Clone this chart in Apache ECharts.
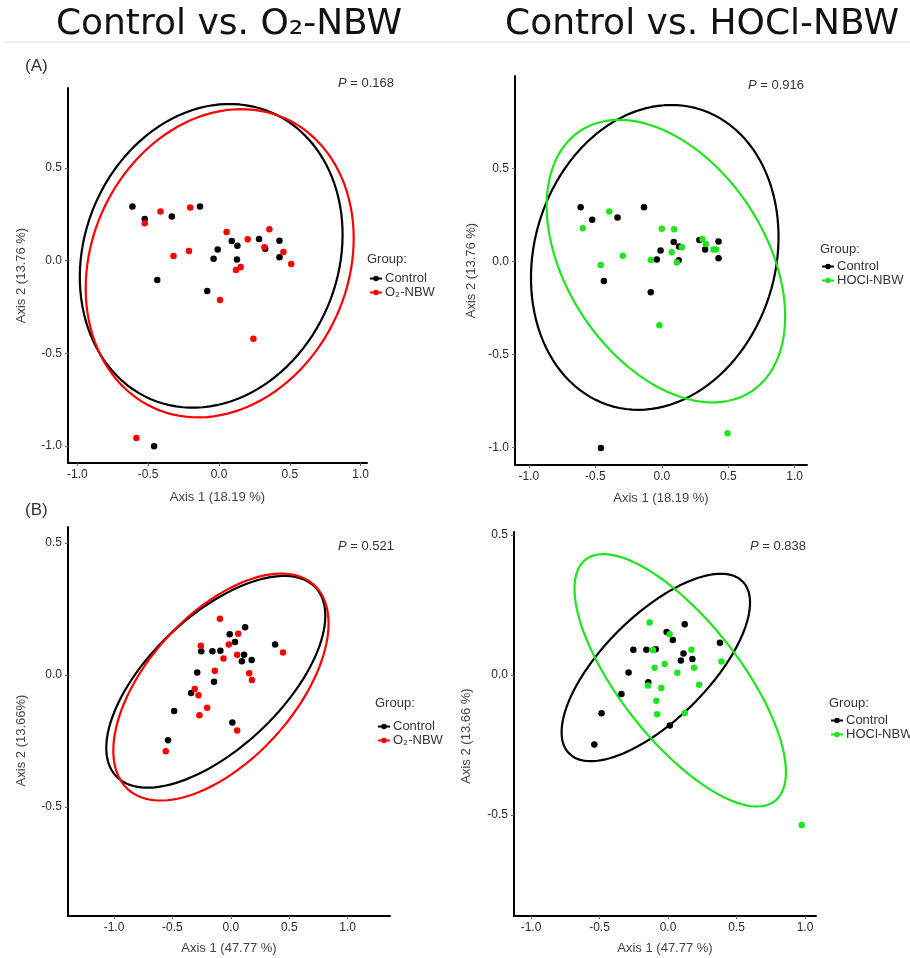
<!DOCTYPE html>
<html>
<head>
<meta charset="utf-8">
<title>PCoA Control vs NBW</title>
<script src="https://cdn.jsdelivr.net/npm/echarts@6.0.0/dist/echarts.min.js"></script>
<style>
  html, body { margin: 0; padding: 0; background: #fff; }
  #main { width: 910px; height: 958px; }
</style>
</head>
<body>
<div id="main"></div>
<script>
// ---- data ----
// (A) Axis 1 18.19 %, Axis 2 13.76 %
var ctrlA = [
  [-0.611, 0.292], [-0.524, 0.225], [-0.333, 0.238], [-0.134, 0.292],
  [0.090, 0.106], [0.130, 0.081], [-0.009, 0.060], [-0.038, 0.011],
  [0.127, 0.007], [0.283, 0.117], [0.427, 0.108], [0.326, 0.065],
  [0.427, 0.018], [-0.436, -0.104], [-0.083, -0.164], [-0.458, -1.002]
];
var o2A = [
  [-0.524, 0.202], [-0.413, 0.265], [-0.203, 0.287], [0.054, 0.155],
  [0.203, 0.116], [0.356, 0.170], [0.321, 0.072], [0.455, 0.047],
  [0.510, -0.018], [-0.321, 0.025], [-0.212, 0.052], [0.120, -0.050],
  [0.153, -0.034], [0.007, -0.212], [0.243, -0.421], [-0.583, -0.957]
];
var hoclA = [
  [-0.395, 0.269], [-0.595, 0.179], [0.000, 0.177], [0.093, 0.174],
  [0.075, 0.050], [0.151, 0.077], [0.113, -0.004], [-0.083, 0.009],
  [-0.294, 0.032], [-0.460, -0.018], [0.306, 0.122], [0.332, 0.095],
  [0.389, 0.066], [0.409, 0.066], [-0.018, -0.342], [0.495, -0.923]
];
// (B) Axis 1 47.77 %, Axis 2 13.66 %
var ctrlB = [
  [0.122, 0.181], [-0.010, 0.154], [0.035, 0.125], [-0.158, 0.090],
  [-0.090, 0.092], [-0.253, 0.090], [0.113, 0.077], [0.094, 0.052],
  [0.178, 0.057], [0.379, 0.115], [-0.288, 0.009], [-0.144, -0.026],
  [-0.340, -0.068], [-0.485, -0.137], [0.013, -0.180], [-0.538, -0.248]
];
var o2B = [
  [-0.094, 0.213], [0.063, 0.156], [-0.017, 0.115], [-0.257, 0.111],
  [-0.063, 0.062], [0.054, 0.077], [-0.137, 0.016], [0.157, 0.006],
  [0.180, -0.019], [0.446, 0.085], [-0.309, -0.053], [-0.277, -0.077],
  [-0.203, -0.124], [-0.269, -0.153], [0.054, -0.211], [-0.557, -0.289]
];
var hoclB = [
  [-0.134, 0.188], [0.012, 0.146], [-0.110, 0.089], [0.171, 0.090],
  [-0.098, 0.026], [-0.024, 0.039], [0.068, 0.008], [0.190, 0.026],
  [0.390, 0.048], [-0.146, -0.037], [-0.049, -0.046], [0.227, -0.035],
  [-0.085, -0.092], [-0.080, -0.140], [0.122, -0.136], [0.976, -0.536]
];

// confidence ellipses: [centerX, centerY, semiMajor, semiMinor, angleDeg]
var ellCtrlA1 = [-0.055, 0.026, 0.953, 0.790, 24.2];
var ellO2A = [0.005, -0.014, 0.978, 0.794, 25.7];
var ellCtrlA2 = [-0.053, 0.023, 0.955, 0.792, 23.1];
var ellHoclA = [0.031, 0.003, 0.991, 0.633, -33.4];
var ellCtrlB1 = [-0.129, -0.026, 0.974, 0.302, 16.6];
var ellO2B = [-0.085, -0.046, 0.957, 0.343, 16.9];
var ellCtrlB2 = [-0.089, 0.027, 0.730, 0.228, 20.7];
var ellHoclB = [0.089, -0.019, 0.848, 0.282, -26.1];

var ticksX = [-1.0, -0.5, 0.0, 0.5, 1.0];
var ticksYA = [-1.0, -0.5, 0.0, 0.5];
var ticksYB = [-0.5, 0.0, 0.5];
var pValues = ['0.168', '0.916', '0.521', '0.838'];

var BLACK = '#000000', RED = '#ff0000', GREEN = '#1ee61e';

// ---- helpers ----
function ellipse(p) {
  var t = p[4] * Math.PI / 180, pts = [];
  for (var i = 0; i <= 120; i++) {
    var u = 2 * Math.PI * i / 120;
    pts.push([
      p[0] + p[2] * Math.cos(t) * Math.cos(u) - p[3] * Math.sin(t) * Math.sin(u),
      p[1] + p[2] * Math.sin(t) * Math.cos(u) + p[3] * Math.cos(t) * Math.sin(u)
    ]);
  }
  return pts;
}

function valueAxis(gi, min, max, ticks, name, nameGap, namePad) {
  return {
    type: 'value', gridIndex: gi, min: min, max: max,
    axisLine: { show: true, onZero: false, lineStyle: { color: '#000', width: 2 } },
    axisTick: { show: true, customValues: ticks, length: 3, lineStyle: { color: '#666' } },
    axisLabel: {
      customValues: ticks, fontSize: 12, color: '#2a2a2a', margin: 6,
      formatter: function (v) { return v.toFixed(1); }
    },
    splitLine: { show: false },
    name: name, nameLocation: 'middle', nameGap: nameGap,
    nameTextStyle: { fontSize: 13, color: '#444', padding: namePad || 0 }
  };
}

function ellSeries(name, gi, p, color) {
  return {
    name: name, type: 'line', xAxisIndex: gi, yAxisIndex: gi,
    data: ellipse(p), symbol: 'circle', showSymbol: false, smooth: false,
    lineStyle: { color: color, width: 2.2 }, itemStyle: { color: color },
    silent: true, z: 2
  };
}

function dotSeries(name, gi, data, color) {
  return {
    name: name, type: 'scatter', xAxisIndex: gi, yAxisIndex: gi,
    data: data, symbolSize: 6.5, itemStyle: { color: color, opacity: 1 }, z: 3
  };
}

function legendAt(names, left, top) {
  return {
    data: names, left: left, top: top, orient: 'vertical', padding: 0,
    itemWidth: 12, itemHeight: 7, itemGap: 1, selectedMode: false,
    textStyle: { fontSize: 13, color: '#333', padding: [0, 0, 0, -2] }
  };
}

function txt(x, y, text, size, extra) {
  var s = { text: text, fontSize: size, fill: '#333', align: 'left', verticalAlign: 'middle',
            fontFamily: 'Liberation Sans' };
  for (var k in extra) s[k] = extra[k];
  return { type: 'text', x: x, y: y, style: s, silent: true };
}

var pRich = { i: { fontStyle: 'italic', fontSize: 13 } };

var chart = echarts.init(document.getElementById('main'), null, { renderer: 'canvas' });

var option = {
  animation: false,
  backgroundColor: '#fff',
  textStyle: { fontFamily: 'Liberation Sans' },
  grid: [
    { left: 68, top: 88, width: 299, height: 375 },
    { left: 515, top: 76, width: 292, height: 389 },
    { left: 68, top: 527, width: 322, height: 389 },
    { left: 514, top: 532, width: 302, height: 384 }
  ],
  xAxis: [
    valueAxis(0, -1.066, 1.045, ticksX, 'Axis 1 (18.19 %)', 28),
    valueAxis(1, -1.105, 1.093, ticksX, 'Axis 1 (18.19 %)', 27),
    valueAxis(2, -1.394, 1.362, ticksX, 'Axis 1 (47.77 %)', 26),
    valueAxis(3, -1.124, 1.080, ticksX, 'Axis 1 (47.77 %)', 26)
  ],
  yAxis: [
    valueAxis(0, -1.092, 0.932, ticksYA, 'Axis 2 (13.76 %)', 40),
    valueAxis(1, -1.093, 0.998, ticksYA, 'Axis 2 (13.76 %)', 37),
    valueAxis(2, -0.914, 0.561, ticksYB, 'Axis 2 (13.66%)', 40, [0, 38, 0, 0]),
    valueAxis(3, -0.861, 0.511, ticksYB, 'Axis 2 (13.66 %)', 41, [0, 24, 0, 0])
  ],
  legend: [
    legendAt(['Control', 'O₂-NBW'], 369, 272),
    legendAt(['Control', 'HOCl-NBW'], 821, 260),
    legendAt(['Control', 'O₂-NBW'], 377, 720),
    legendAt(['Control', 'HOCl-NBW'], 830, 714)
  ],
  series: [
    ellSeries('Control', 0, ellCtrlA1, BLACK),
    ellSeries('O₂-NBW', 0, ellO2A, RED),
    ellSeries('Control', 1, ellCtrlA2, BLACK),
    ellSeries('HOCl-NBW', 1, ellHoclA, GREEN),
    ellSeries('Control', 2, ellCtrlB1, BLACK),
    ellSeries('O₂-NBW', 2, ellO2B, RED),
    ellSeries('Control', 3, ellCtrlB2, BLACK),
    ellSeries('HOCl-NBW', 3, ellHoclB, GREEN),
    dotSeries('Control', 0, ctrlA, BLACK),
    dotSeries('O₂-NBW', 0, o2A, RED),
    dotSeries('Control', 1, ctrlA, BLACK),
    dotSeries('HOCl-NBW', 1, hoclA, GREEN),
    dotSeries('Control', 2, ctrlB, BLACK),
    dotSeries('O₂-NBW', 2, o2B, RED),
    dotSeries('Control', 3, ctrlB, BLACK),
    dotSeries('HOCl-NBW', 3, hoclB, GREEN)
  ],
  graphic: [
    txt(229, 25, 'Control vs. O₂-NBW', 36, { align: 'center', fontFamily: 'DejaVu Sans', fill: '#111' }),
    txt(702, 25, 'Control vs. HOCl-NBW', 36, { align: 'center', fontFamily: 'DejaVu Sans', fill: '#111' }),
    { type: 'line', shape: { x1: 5, y1: 42, x2: 910, y2: 42 }, style: { stroke: '#dddddd', lineWidth: 1 }, silent: true },
    txt(25, 66, '(A)', 17, {}),
    txt(25, 510, '(B)', 17, {}),
    txt(338, 83, '{i|P} = ' + pValues[0], 13, { rich: pRich }),
    txt(748, 85, '{i|P} = ' + pValues[1], 13, { rich: pRich }),
    txt(338, 546, '{i|P} = ' + pValues[2], 13, { rich: pRich }),
    txt(750, 546, '{i|P} = ' + pValues[3], 13, { rich: pRich }),
    txt(367, 259, 'Group:', 13, {}),
    txt(820, 249, 'Group:', 13, {}),
    txt(375, 703, 'Group:', 13, {}),
    txt(829, 703, 'Group:', 13, {})
  ]
};

chart.setOption(option);
</script>
</body>
</html>
